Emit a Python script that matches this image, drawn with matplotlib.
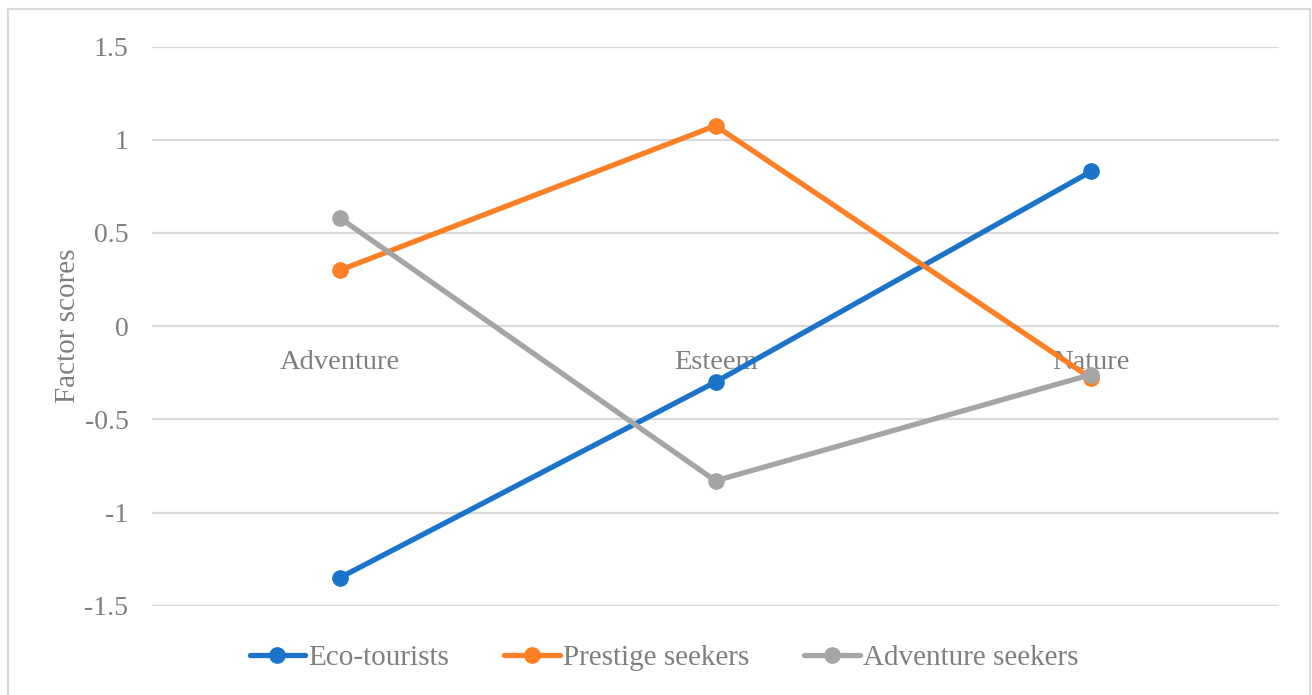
import matplotlib.pyplot as plt
from matplotlib.patches import Rectangle

# Data
categories = ['Adventure', 'Esteem', 'Nature']
eco_tourists = [-1.35, -0.30, 0.83]
prestige_seekers = [0.30, 1.075, -0.28]
adventure_seekers = [0.58, -0.83, -0.26]
series_names = ['Eco-tourists', 'Prestige seekers', 'Adventure seekers']
y_ticks = [-1.5, -1, -0.5, 0, 0.5, 1, 1.5]
y_tick_labels = ['-1.5', '-1', '-0.5', '0', '0.5', '1', '1.5']

colors = ['#1C73CA', '#FD7F26', '#A5A5A5']
text_color = '#7F7F7F'
grid_color = '#D9D9D9'

plt.rcParams['font.family'] = ['Liberation Serif', 'DejaVu Serif']

fig = plt.figure(figsize=(13.12, 6.95), dpi=100)
ax = fig.add_axes([152 / 1312, 1 - 605.7 / 695, (1279 - 152) / 1312, (605.7 - 46.5) / 695])

x = range(len(categories))
for values, name, c in zip([eco_tourists, prestige_seekers, adventure_seekers], series_names, colors):
    ax.plot(x, values, color=c, linewidth=3.8, marker='o', markersize=11,
            label=name, solid_capstyle='round', zorder=3)

ax.set_xlim(-0.5, 2.5)
ax.set_ylim(-1.5, 1.5)

# Horizontal gridlines
ax.set_yticks(y_ticks)
ax.set_yticklabels(y_tick_labels)
ax.yaxis.grid(True, color=grid_color, linewidth=1.6)
ax.set_axisbelow(True)
ax.tick_params(axis='y', length=0, pad=17, labelsize=20, labelcolor=text_color)

# Category axis crosses at zero
ax.spines['bottom'].set_position(('data', 0))
ax.set_xticks(list(x))
ax.set_xticklabels(categories)
ax.tick_params(axis='x', length=0, pad=17.5, labelsize=20.5, labelcolor=text_color)
for side in ['top', 'right', 'left', 'bottom']:
    ax.spines[side].set_visible(False)

ax.set_ylabel('Factor scores', fontsize=21, color=text_color, labelpad=2.5)

leg = fig.legend(loc='center', bbox_to_anchor=(664 / 1312, 1 - 658 / 695), ncol=3,
                 frameon=False, fontsize=21, labelcolor=text_color,
                 handlelength=1.9, handletextpad=0.1, columnspacing=1.9)

# Chart border
fig.patches.append(Rectangle((7.5 / 1312, -0.05), (1310 - 7.5) / 1312, 1.05 - 8.5 / 695,
                             transform=fig.transFigure, fill=False,
                             edgecolor='#D9D9D9', linewidth=1.5))

fig.savefig('out.png', dpi=100)
